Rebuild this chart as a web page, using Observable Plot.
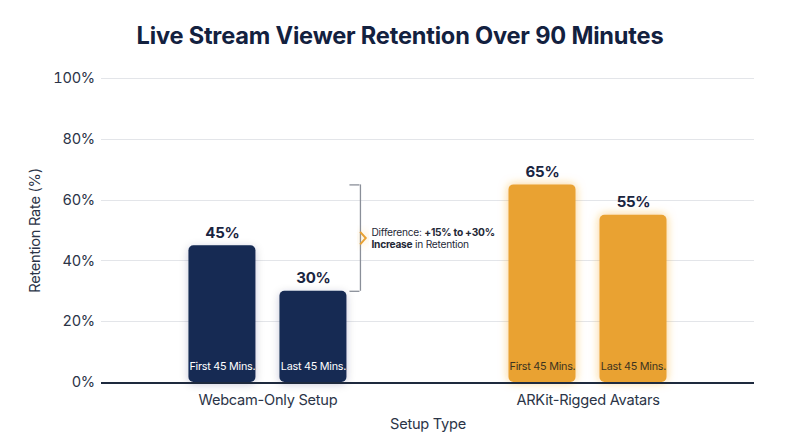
<!DOCTYPE html>
<html>
<head>
<meta charset="utf-8">
<script src="https://cdn.jsdelivr.net/npm/d3@7"></script>
<script src="https://cdn.jsdelivr.net/npm/@observablehq/plot@0.6"></script>
<style>
  html, body { margin: 0; padding: 0; background: #ffffff; }
  #title {
    font-family: Inter, "Noto Sans", sans-serif;
    font-weight: 700; font-size: 23.6px; color: #13213f;
    text-align: center; line-height: 30px;
    padding-top: 21px; height: 39px; box-sizing: content-box;
    letter-spacing: -0.2px;
  }
  #chart svg text { letter-spacing: -0.25px; }
</style>
</head>
<body>
<div id="title">Live Stream Viewer Retention Over 90 Minutes</div>
<div id="chart"></div>
<script>
const groups = ["Webcam-Only Setup", "ARKit-Rigged Avatars"];
const periods = ["First 45 Mins.", "Last 45 Mins."];
const webcamValues = [45, 30];
const arkitValues = [65, 55];
const yTicks = [0, 20, 40, 60, 80, 100];
const annotationText = "Difference: +15% to +30%\nIncrease in Retention";
const annotationBold = ["+15% to +30%", "Increase"];

const navy = "#142a52";
const orange = "#e9a233";

const seriesByGroup = [webcamValues, arkitValues];
const data = groups.flatMap((g, i) => periods.map((p, j) => ({group: g, period: p, value: seriesByGroup[i][j]})));

// horizontal grid / baseline rows, one set per facet
const gridRows = groups.flatMap(g => yTicks.slice(1).map(v => ({group: g, v})));
const baseRows = groups.map(g => ({group: g, v: yTicks[0]}));

// bracket: between webcam "Last" (30) and ARKit "First" (65)
const bracket = [{
  group: groups[0], period: periods[1],
  low: webcamValues[1], high: arkitValues[0],
  mid: (webcamValues[1] + arkitValues[0]) / 2,
  label: annotationText
}];
const bracketEnds = [
  {group: groups[0], period: periods[1], v: bracket[0].low},
  {group: groups[0], period: periods[1], v: bracket[0].high}
];

// chevron symbol (open ">" shape)
const chevron = {
  draw(ctx, size) {
    const r = Math.sqrt(size) / 2;
    ctx.moveTo(-r * 0.45, -r);
    ctx.lineTo(r * 0.45, 0);
    ctx.lineTo(-r * 0.45, r);
  }
};

const isLeft = d => d.group === groups[0];
const isRight = d => d.group === groups[1];

const plot = Plot.plot({
  width: 800,
  height: 387,
  marginTop: 18,
  marginBottom: 65,
  marginLeft: 102,
  marginRight: 47,
  style: {fontFamily: "Inter, 'Noto Sans', sans-serif", fontSize: "14.6px", color: "#2b3447", background: "transparent"},
  fx: {domain: groups, paddingInner: 0, paddingOuter: 0.017, round: false, axis: "bottom", label: "Setup Type", labelAnchor: "center",
       labelOffset: 46, tickSize: 0, tickPadding: 12, labelArrow: "none"},
  x: {domain: periods, axis: null, paddingInner: 0.268, paddingOuter: 0.8825},
  y: {domain: [0, 100], ticks: yTicks, tickFormat: d => d + "%", tickSize: 0, tickPadding: 13,
      label: "Retention Rate (%)", labelAnchor: "center", labelOffset: 78, labelArrow: "none"},
  color: {domain: groups, range: [navy, orange]},
  marks: [
    Plot.ruleY(gridRows, {filter: isLeft, fx: "group", y: "v", stroke: "#e3e5e9", strokeWidth: 1, insetLeft: -6, insetRight: -1, shapeRendering: "crispEdges"}),
    Plot.ruleY(gridRows, {filter: isRight, fx: "group", y: "v", stroke: "#e3e5e9", strokeWidth: 1, insetRight: -6, shapeRendering: "crispEdges"}),
    Plot.barY(data, {fx: "group", x: "period", y: "value", fill: "group", rx: 5}),
    Plot.ruleY(baseRows, {filter: isLeft, fx: "group", y: "v", stroke: "#1e2a3e", strokeWidth: 2, insetLeft: -6, insetRight: -1, shapeRendering: "crispEdges"}),
    Plot.ruleY(baseRows, {filter: isRight, fx: "group", y: "v", stroke: "#1e2a3e", strokeWidth: 2, insetRight: -6, shapeRendering: "crispEdges"}),
    Plot.text(data, {fx: "group", x: "period", y: "value", text: d => d.value + "%", dy: -13,
      fontWeight: 700, fontSize: 15, fill: "#1a2540"}),
    Plot.text(data, {filter: isLeft, fx: "group", x: "period", y: d => 0, text: "period",
      dy: -16, fontSize: 10.8, fill: "#ffffff"}),
    Plot.text(data, {filter: isRight, fx: "group", x: "period", y: d => 0, text: "period",
      dy: -16, fontSize: 10.8, fill: "#3d3420"}),
    Plot.ruleX(bracket, {fx: "group", x: "period", y1: "low", y2: "high", dx: 47, stroke: "#8a8f99", strokeWidth: 1.3}),
    Plot.tickY(bracketEnds, {fx: "group", x: "period", y: "v", dx: 70, insetRight: 57, stroke: "#8a8f99", strokeWidth: 1.3}),
    Plot.dot(bracket, {fx: "group", x: "period", y: "mid", symbol: chevron, r: 7, dx: 49.5,
      stroke: orange, strokeWidth: 2, fill: "none"}),
    Plot.text(bracket, {fx: "group", x: "period", y: "mid", text: "label", dx: 58, textAnchor: "start",
      fontSize: 10.2, fill: "#1f2937", lineHeight: 1.22})
  ]
});

document.getElementById("chart").appendChild(plot);

const svg = d3.select(plot.tagName.toLowerCase() === "svg" ? plot : plot.querySelector("svg"));

// remove any axis label arrows
svg.selectAll("text").each(function() {
  if (this.children.length) return;
  const t = this.textContent;
  const c = t.replace(/\s*[\u2191\u2192\u2190\u2193]\s*/g, "");
  if (c !== t) this.textContent = c;
});

// glow filters
const defs = svg.insert("defs", ":first-child");
const fo = defs.append("filter").attr("id", "glowOrange").attr("x", "-50%").attr("y", "-50%").attr("width", "200%").attr("height", "200%");
fo.append("feDropShadow").attr("dx", 0).attr("dy", 0).attr("stdDeviation", 5).attr("flood-color", "#f5a623").attr("flood-opacity", 0.55);
const fn = defs.append("filter").attr("id", "glowNavy").attr("x", "-50%").attr("y", "-50%").attr("width", "200%").attr("height", "200%");
fn.append("feDropShadow").attr("dx", 0).attr("dy", 2).attr("stdDeviation", 4).attr("flood-color", "#1b2a4a").attr("flood-opacity", 0.22);

svg.selectAll("rect").each(function() {
  const f = (this.getAttribute("fill") || "").toLowerCase();
  if (f === orange) this.setAttribute("filter", "url(#glowOrange)");
  else if (f === navy) this.setAttribute("filter", "url(#glowNavy)");
});
svg.selectAll("path, g").each(function() {
  const s = (this.getAttribute("stroke") || "").toLowerCase();
  if (s === orange) this.setAttribute("filter", "url(#glowOrange)");
});

// bold parts of the annotation
svg.selectAll("tspan").each(function() {
  const t = this.textContent;
  const phrase = annotationBold.find(b => t.includes(b));
  if (!phrase || this.querySelector("tspan")) return;
  const k = t.indexOf(phrase);
  const before = t.slice(0, k), after = t.slice(k + phrase.length);
  this.textContent = before;
  const sel = d3.select(this);
  sel.append("tspan").attr("font-weight", 700).text(phrase);
  if (after) sel.append("tspan").text(after);
});
</script>
</body>
</html>
